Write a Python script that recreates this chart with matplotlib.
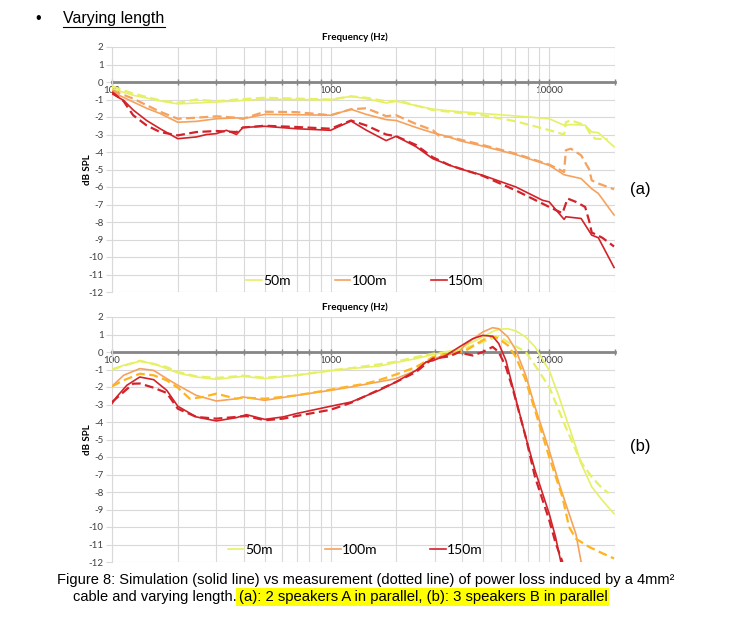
import matplotlib
matplotlib.use("Agg")
import matplotlib.pyplot as plt
from matplotlib.lines import Line2D
from matplotlib.ticker import LogLocator, NullFormatter

plt.rcParams["axes.unicode_minus"] = False

# --- data: (a) 2 speakers A in parallel ---
f_yel_a_sim = [100, 125, 166, 200, 243, 300, 371, 397, 500, 697, 1000, 1240, 1455, 1795, 1995, 2461, 2932, 3494,
               4963, 7045, 10000, 11700, 12560, 14600, 15650, 16780, 19800]
db_yel_a_sim = [-0.38, -0.76, -1.08, -1.25, -1.2, -1.14, -1.08, -1.05, -0.98, -1.0, -1.02, -0.82, -0.95, -1.2, -1.1,
                -1.35, -1.55, -1.65, -1.8, -1.94, -2.1, -2.47, -2.43, -2.47, -2.85, -2.9, -3.7]
f_yel_a_meas = [100, 125, 166, 200, 243, 300, 371, 500, 697, 1000, 1240, 1455, 1795, 2066, 2461, 2932, 3494, 4963,
                7045, 8700, 10000, 11700, 11920, 12560, 14600, 15400, 16200, 18500]
db_yel_a_meas = [-0.25, -0.66, -1.05, -1.2, -1.0, -1.1, -1.0, -0.9, -0.95, -1.0, -0.82, -0.9, -1.1, -1.08, -1.35,
                 -1.6, -1.7, -1.9, -2.25, -2.55, -2.75, -3.0, -2.3, -2.19, -2.47, -2.95, -3.24, -3.27]

f_org_a_sim = [100, 125, 144, 166, 200, 243, 300, 371, 397, 500, 697, 1000, 1240, 1455, 1795, 1995, 2461, 2932, 3494,
               3882, 4963, 7045, 10000, 11700, 12000, 14000, 15650, 16780, 19800]
db_org_a_sim = [-0.57, -1.14, -1.5, -1.8, -2.3, -2.25, -2.1, -2.05, -2.1, -1.85, -1.87, -1.9, -1.56, -1.85, -2.15,
                -2.2, -2.6, -2.9, -3.14, -3.35, -3.66, -4.15, -4.76, -5.3, -5.33, -5.52, -6.1, -6.37, -7.6]
f_org_a_meas = [100, 125, 166, 200, 243, 300, 371, 397, 500, 697, 1000, 1240, 1455, 1795, 1995, 2461, 2932, 3150,
                3494, 4963, 7045, 10000, 11700, 11920, 12560, 14000, 15240, 15650, 16780, 19800]
db_org_a_meas = [-0.48, -0.95, -1.7, -2.1, -2.04, -1.96, -2.04, -2.1, -1.7, -1.72, -1.9, -1.56, -1.5, -1.95, -1.9,
                 -2.4, -2.75, -3.1, -3.14, -3.6, -4.1, -4.72, -5.14, -3.9, -3.81, -4.19, -5.0, -5.62, -5.8, -6.13]

f_red_a_sim = [100, 113, 125, 144, 166, 200, 243, 271, 300, 334, 371, 397, 500, 697, 1000, 1240, 1455, 1795, 1995,
               2461, 2932, 3494, 3882, 4963, 7045, 9330, 10000, 11700, 11920, 14000, 15650, 16780, 19800]
db_red_a_sim = [-0.67, -1.05, -1.6, -2.2, -2.67, -3.24, -3.14, -3.0, -2.95, -2.76, -3.0, -2.6, -2.53, -2.67, -2.76,
                -2.23, -2.75, -3.35, -3.1, -3.7, -4.38, -4.75, -4.95, -5.33, -6.0, -6.76, -6.85, -7.85, -7.7, -7.8,
                -8.75, -8.9, -10.6]
f_red_a_meas = [100, 113, 125, 144, 166, 200, 243, 300, 371, 397, 500, 697, 1000, 1240, 1455, 1795, 1995, 2461, 2932,
                3494, 4963, 7045, 10000, 11500, 12140, 13250, 14600, 15240, 15650, 17500, 19800]
db_red_a_meas = [-0.57, -1.1, -1.9, -2.48, -2.86, -3.05, -2.86, -2.8, -2.86, -2.6, -2.5, -2.57, -2.67, -2.2, -2.48,
                 -3.0, -3.1, -3.6, -4.3, -4.75, -5.36, -6.2, -7.14, -7.5, -6.66, -6.85, -7.14, -7.95, -8.6, -8.9,
                 -9.4]

# --- data: (b) 3 speakers B in parallel ---
f_yel_b_sim = [100, 113, 134, 155, 178, 200, 243, 300, 371, 397, 500, 697, 1000, 1240, 1670, 1995, 2461, 2932, 3494,
               3882, 4110, 4963, 5510, 5910, 6470, 7045, 7810, 8610, 10000, 11100, 11900, 13250, 14000, 15650,
               17500, 19800]
db_yel_b_sim = [-1.0, -0.76, -0.53, -0.67, -0.95, -1.2, -1.43, -1.56, -1.43, -1.39, -1.52, -1.33, -1.07, -0.95, -0.8,
                -0.6, -0.38, -0.15, 0.05, 0.15, 0.35, 0.85, 1.17, 1.3, 1.33, 1.2, 0.86, 0.29, -1.05, -2.57, -3.71,
                -5.43, -6.38, -7.7, -8.48, -9.24]
f_yel_b_meas = [100, 134, 178, 200, 243, 300, 371, 397, 500, 697, 1000, 1240, 1670, 1995, 2461, 2932, 3882, 4963,
                5877, 6470, 7045, 7810, 8610, 10000, 11900, 13250, 14000, 15650, 17500, 18700]
db_yel_b_meas = [-1.0, -0.5, -0.86, -1.14, -1.39, -1.48, -1.39, -1.35, -1.47, -1.33, -1.05, -0.92, -0.7, -0.55,
                 -0.29, -0.1, 0.1, 0.57, 0.9, 0.57, 0.32, 0.0, -0.76, -2.0, -4.29, -5.62, -6.3, -7.14, -7.8, -8.06]

f_org_b_sim = [100, 113, 134, 155, 178, 200, 243, 300, 371, 397, 500, 697, 1000, 1240, 1670, 1995, 2461, 2735, 2932,
               3882, 4110, 4963, 5510, 5877, 6470, 7045, 7810, 8610, 10000, 11100, 11900, 13250, 14000]
db_org_b_sim = [-1.96, -1.33, -0.95, -1.05, -1.52, -1.9, -2.48, -2.8, -2.67, -2.57, -2.76, -2.48, -2.19, -2.0, -1.7,
                -1.52, -1.05, -0.57, -0.38, 0.0, 0.4, 1.14, 1.39, 1.33, 0.86, 0.1, -1.33, -3.14, -5.62, -7.52, -8.67,
                -10.4, -12.0]
f_org_b_meas = [100, 113, 134, 155, 178, 200, 227, 261, 300, 371, 397, 500, 697, 1000, 1240, 1455, 1670, 1995, 2461,
                2932, 3882, 4110, 4963, 5510, 5877, 6470, 7045, 7810, 8610, 10000, 11500, 12330, 13250, 15240,
                17500, 19800]
db_org_b_meas = [-1.96, -1.62, -1.24, -1.33, -1.62, -2.04, -2.67, -2.57, -2.38, -2.67, -2.6, -2.67, -2.48, -2.15,
                 -1.95, -1.8, -1.6, -1.28, -0.86, -0.29, 0.0, 0.05, 0.67, 0.9, 0.76, 0.38, -0.29, -1.62, -3.33, -6.0,
                 -8.29, -10.0, -10.67, -11.14, -11.5, -11.8]

f_red_b_sim = [100, 105, 117, 134, 155, 178, 200, 243, 300, 371, 412, 500, 606, 697, 1000, 1240, 1670, 1995, 2461,
               2735, 2932, 3377, 3882, 4470, 4963, 5510, 5877, 6340, 6810, 7810, 8610, 10000, 10690, 11310]
db_red_b_sim = [-2.95, -2.57, -1.9, -1.43, -1.58, -2.19, -3.1, -3.71, -3.94, -3.75, -3.58, -3.85, -3.71, -3.52,
                -3.1, -2.86, -2.19, -1.71, -1.05, -0.57, -0.5, -0.19, 0.29, 0.76, 0.95, 0.9, 0.48, -0.48, -2.0,
                -4.86, -6.76, -9.24, -10.57, -12.0]
f_red_b_meas = [100, 125, 134, 155, 178, 200, 243, 300, 371, 412, 500, 606, 697, 1000, 1240, 1670, 1995, 2461, 2735,
                2932, 3494, 3882, 4110, 4470, 4963, 5510, 5877, 6340, 6810, 7810, 8610, 10000, 10690, 11500]
db_red_b_meas = [-2.86, -1.81, -1.8, -2.04, -2.34, -3.24, -3.71, -3.81, -3.71, -3.66, -3.9, -3.81, -3.66, -3.3, -2.9,
                 -2.15, -1.71, -1.14, -0.67, -0.38, -0.25, 0.0, -0.1, -0.2, 0.0, 0.29, 0.0, -0.86, -2.1, -4.86,
                 -7.14, -9.6, -10.9, -12.0]

lengths = ["50m", "100m", "150m"]
x_ticks = [100, 1000, 10000]
y_ticks = list(range(-12, 3))

# colours
c_yel = "#e6f066"
c_org = "#f5a25e"
c_red = "#d2232a"
c_amber = "#ffb41e"

W, H = 733, 617


def px_rect(x0, y0, x1, y1):
    return [x0 / W, 1 - y1 / H, (x1 - x0) / W, (y1 - y0) / H]


def style_axes(ax):
    ax.set_xscale("log")
    ax.set_xlim(100, 20000)
    ax.set_ylim(-12, 2)
    ax.set_yticks(y_ticks)
    ax.set_xticks(x_ticks)
    ax.set_xticklabels([str(t) for t in x_ticks])
    ax.xaxis.set_minor_locator(LogLocator(base=10, subs=range(2, 10)))
    ax.xaxis.set_minor_formatter(NullFormatter())
    ax.grid(which="both", axis="x", color="#d9d9d9", lw=0.8)
    ax.grid(which="major", axis="y", color="#d9d9d9", lw=0.8)
    ax.set_axisbelow(True)
    for s in ["top", "right"]:
        ax.spines[s].set_visible(False)
    ax.spines["left"].set_color("#d9d9d9")
    ax.spines["bottom"].set_position(("data", 0))
    ax.spines["bottom"].set_color("#868686")
    ax.spines["bottom"].set_linewidth(2)
    ax.spines["bottom"].set_zorder(1.5)
    ax.tick_params(axis="x", which="both", direction="inout", length=4, width=1, color="#868686",
                   labelsize=7, labelcolor="#404040", pad=1)
    ax.tick_params(axis="y", direction="out", length=4, width=0.8, color="#d9d9d9",
                   labelsize=7, labelcolor="#404040", pad=2)
    for lab in ax.get_xticklabels() + ax.get_yticklabels():
        lab.set_family("Lato")


def draw(ax, series, leg_x, leg_y, colspace):
    handles = []
    for (f_s, d_s, f_m, d_m, col, col_m), name in zip(series, lengths):
        h, = ax.plot(f_s, d_s, color=col, lw=1.2, zorder=3)
        ax.plot(f_m, d_m, color=col_m, lw=1.6, ls=(0, (4, 2)), zorder=3)
        handles.append(h)
    ax.legend(handles, lengths, loc="center", bbox_to_anchor=(leg_x, leg_y), ncol=3, frameon=False,
              prop={"family": "Lato", "size": 10}, handlelength=1.1, handletextpad=0.1,
              columnspacing=colspace, borderpad=0)


fig = plt.figure(figsize=(W / 100, H / 100), dpi=100)

ax_a = fig.add_axes(px_rect(112, 47, 615, 292))
style_axes(ax_a)
draw(ax_a, [
    (f_yel_a_sim, db_yel_a_sim, f_yel_a_meas, db_yel_a_meas, c_yel, c_yel),
    (f_org_a_sim, db_org_a_sim, f_org_a_meas, db_org_a_meas, c_org, c_org),
    (f_red_a_sim, db_red_a_sim, f_red_a_meas, db_red_a_meas, c_red, c_red),
], 0.503, 0.045, 3.2)

ax_b = fig.add_axes(px_rect(112, 317, 615, 562))
style_axes(ax_b)
draw(ax_b, [
    (f_yel_b_sim, db_yel_b_sim, f_yel_b_meas, db_yel_b_meas, c_yel, c_yel),
    (f_org_b_sim, db_org_b_sim, f_org_b_meas, db_org_b_meas, c_org, c_amber),
    (f_red_b_sim, db_red_b_sim, f_red_b_meas, db_red_b_meas, c_red, c_red),
], 0.484, 0.049, 3.8)

# chart titles and axis labels
for ytop, ymid in [(37, 170), (307, 440)]:
    fig.text(355 / W, 1 - ytop / H, "Frequency (Hz)", family="Lato", fontweight="bold", fontsize=7,
             ha="center", va="center")
    fig.text(88 / W, 1 - ymid / H, "dB SPL", family="Lato", fontweight="bold", fontsize=7,
             rotation=90, ha="center", va="center")

fig.text(630 / W, 1 - 190 / H, "(a)", family="Liberation Sans", fontsize=12, ha="left", va="center")
fig.text(630 / W, 1 - 447 / H, "(b)", family="Liberation Sans", fontsize=12, ha="left", va="center")

# heading
fig.text(38 / W, 1 - 19 / H, "\u2022", family="Liberation Sans", fontsize=11.5, ha="center", va="center")
fig.text(63 / W, 1 - 19 / H, "Varying length", family="Liberation Sans", fontsize=11.5, ha="left", va="center")
fig.add_artist(Line2D([63 / W, 165 / W], [1 - 27 / H, 1 - 27 / H], color="black", lw=0.8))

# caption
fig.text(366 / W, 1 - 580 / H,
         "Figure 8: Simulation (solid line) vs measurement (dotted line) of power loss induced by a 4mm\u00b2",
         family="Liberation Sans", fontsize=10.5, ha="center", va="center")
fig.text(237 / W, 1 - 597 / H, "cable and varying length.", family="Liberation Sans", fontsize=10.5,
         ha="right", va="center")
fig.text(238.5 / W, 1 - 597 / H, "(a): 2 speakers A in parallel, (b): 3 speakers B in parallel",
         family="Liberation Sans", fontsize=10.7, ha="left", va="center",
         bbox=dict(facecolor="#ffff00", edgecolor="none", pad=1.5))

fig.savefig("out.png", dpi=100)
